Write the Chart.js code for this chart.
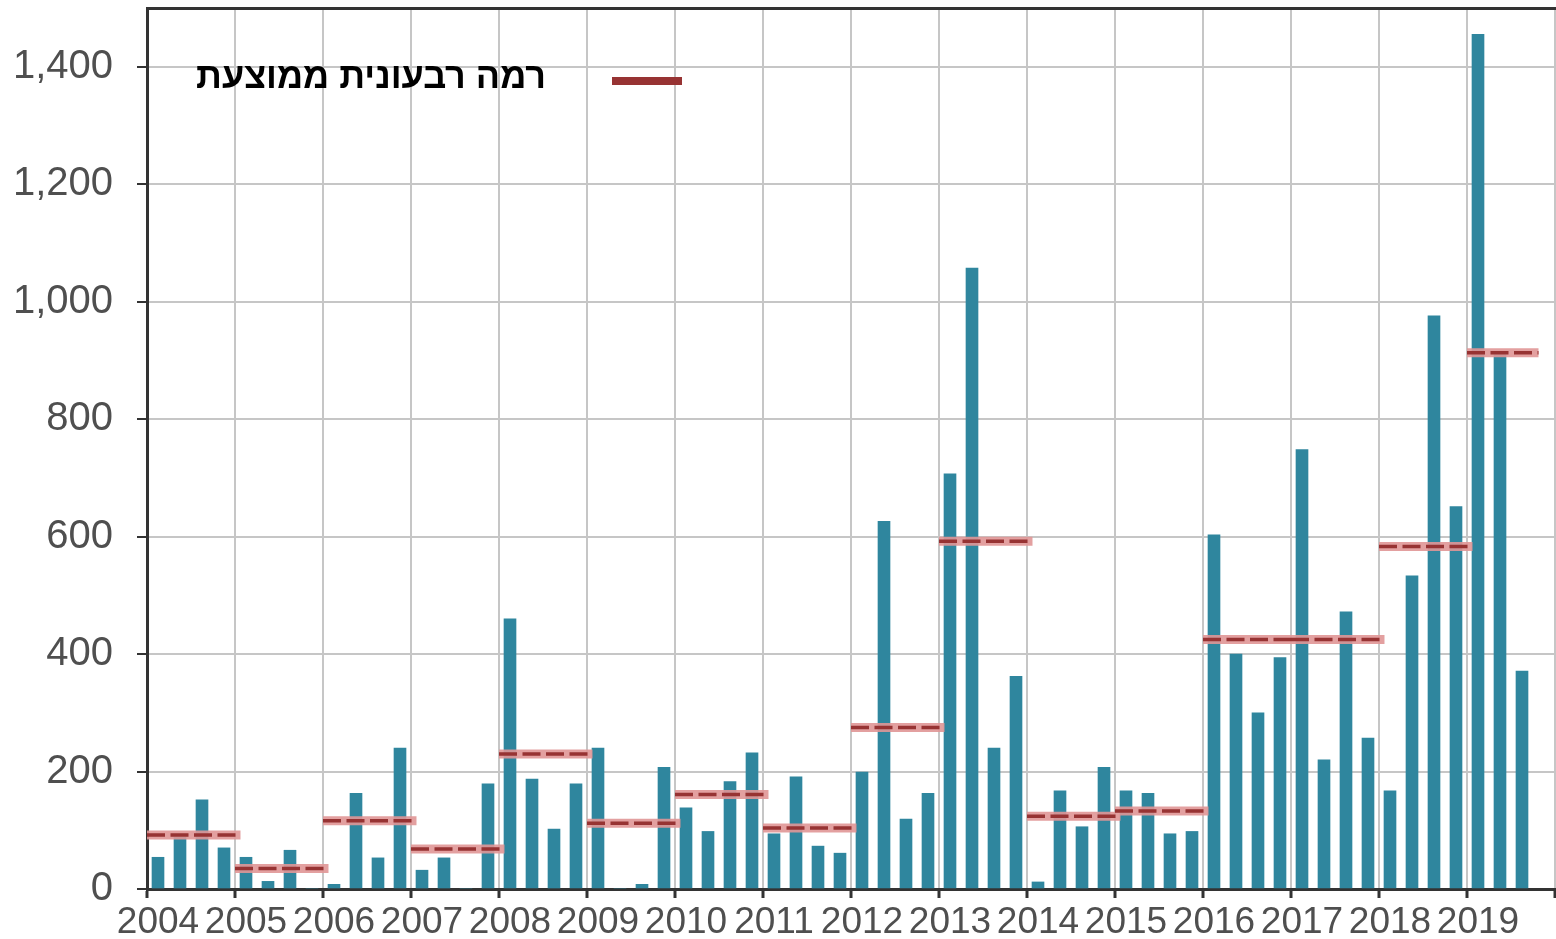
<!DOCTYPE html>
<html>
<head>
<meta charset="utf-8">
<script src="https://cdn.jsdelivr.net/npm/chart.js@4.4.1/dist/chart.umd.min.js"></script>
<style>
  html, body { margin: 0; padding: 0; background: #fff; }
  #wrap { width: 1556px; height: 939px; position: relative; }
</style>
</head>
<body>
<div id="wrap"><canvas id="chart"></canvas></div>
<script>
// quarterly values (2019 Q4 not published)
const years = [2004, 2005, 2006, 2007, 2008, 2009, 2010, 2011, 2012, 2013, 2014, 2015, 2016, 2017, 2018, 2019];
const quarterValues = [
  54, 88, 152, 70,      // 2004
  54, 13, 66, 0,        // 2005
  8, 163, 53, 240,      // 2006
  32, 53, 0, 179,       // 2007
  460, 187, 102, 179,   // 2008
  240, 0, 8, 207,       // 2009
  138, 98, 183, 232,    // 2010
  94, 191, 73, 61,      // 2011
  199, 626, 119, 163,   // 2012
  707, 1057, 240, 362,  // 2013
  12, 167, 106, 207,    // 2014
  167, 163, 94, 98,     // 2015
  603, 400, 300, 394,   // 2016
  748, 220, 472, 257,   // 2017
  167, 533, 976, 651,   // 2018
  1455, 910, 371, null  // 2019
];
const yearAverages = [92, 35, 116, 68, 230, 112, 161, 104, 275, 592, 124, 133, 425, 425, 583, 913];
const quartersInYear = [4, 4, 4, 4, 4, 4, 4, 4, 4, 4, 4, 4, 4, 4, 4, 3];
const yTicks = [0, 200, 400, 600, 800, 1000, 1200, 1400];
const legendLabel = "רמה רבעונית ממוצעת";

const barColor = "#2f869e";
const avgDark = "#973333";
const avgLight = "rgba(224,150,150,0.9)";
const gridColor = "#c6c6c6";
const axisColor = "#333333";
const labelColor = "#4f4f4f";
const tickFont = '"Liberation Sans", Arial, sans-serif';

const labels = [];
years.forEach(y => { for (let q = 1; q <= 4; q++) labels.push(y + " Q" + q); });

// one segment per year, broken by null points
const avgPoints = [];
yearAverages.forEach((v, i) => {
  const start = i * 4 - 0.5;
  avgPoints.push({ x: start, y: v });
  avgPoints.push({ x: start + quartersInYear[i] + 0.25, y: v });
  avgPoints.push({ x: start + quartersInYear[i] + 0.3, y: null });
});

const cornerLegend = {
  id: "cornerLegend",
  afterDraw(chart) {
    const { ctx, chartArea } = chart;
    const x0 = chartArea.left;
    ctx.save();
    ctx.strokeStyle = avgDark;
    ctx.lineWidth = 8;
    ctx.beginPath();
    ctx.moveTo(x0 + 465, 81);
    ctx.lineTo(x0 + 535, 81);
    ctx.stroke();
    ctx.font = 'bold 36px "Liberation Sans", Arial, "DejaVu Sans", sans-serif';
    ctx.fillStyle = "#000";
    ctx.direction = "rtl";
    ctx.textAlign = "right";
    ctx.textBaseline = "middle";
    ctx.fillText(legendLabel, x0 + 399, 78);
    ctx.restore();
  }
};

const isYearStart = c => c.index === undefined || c.index % 4 === 0;

new Chart(document.getElementById("chart"), {
  data: {
    labels,
    datasets: [
      { type: "line", data: avgPoints, xAxisID: "x2", borderColor: avgDark, borderWidth: 3.5, borderDash: [18, 5.5], pointRadius: 0, spanGaps: false, order: 0 },
      { type: "line", data: avgPoints, xAxisID: "x2", borderColor: avgLight, borderWidth: 9, pointRadius: 0, spanGaps: false, order: 1 },
      { type: "bar", data: quarterValues, xAxisID: "x", backgroundColor: barColor, grouped: false, barThickness: 12, order: 2 }
    ]
  },
  options: {
    responsive: true,
    maintainAspectRatio: false,
    animation: false,
    layout: { padding: { left: 0, right: 1, top: 0, bottom: 0 } },
    plugins: { legend: { display: false }, tooltip: { enabled: false } },
    scales: {
      x: {
        type: "category",
        position: "bottom",
        offset: true,
        grid: { offset: true, color: c => isYearStart(c) ? gridColor : "rgba(0,0,0,0)", lineWidth: 2, tickLength: 9, tickWidth: 3, tickColor: c => isYearStart(c) ? axisColor : "rgba(0,0,0,0)" },
        border: { color: axisColor, width: 3 },
        ticks: { autoSkip: false, maxRotation: 0, padding: 3, color: labelColor, font: { family: tickFont, size: 37 }, callback: (v, i) => i % 4 === 0 ? years[i / 4] : "" },
        afterFit: s => { s.height = 50; s.paddingLeft = 0; s.paddingRight = 0; }
      },
      x2: {
        type: "linear",
        position: "top",
        min: -0.5,
        max: 63.5,
        ticks: { display: false },
        grid: { display: false },
        border: { display: true, color: axisColor, width: 3 },
        afterFit: s => { s.height = 8; s.paddingLeft = 0; s.paddingRight = 0; }
      },
      y: {
        min: 0,
        max: 1500,
        grid: { color: gridColor, lineWidth: 2, tickLength: 10, tickColor: axisColor },
        border: { color: axisColor, width: 3 },
        ticks: { color: labelColor, padding: 24, font: { family: tickFont, size: 40 } },
        afterBuildTicks: s => { s.ticks = yTicks.map(v => ({ value: v })); },
        afterFit: s => { s.width = 147; s.paddingTop = 0; s.paddingBottom = 0; }
      }
    }
  },
  plugins: [cornerLegend]
});
</script>
</body>
</html>
